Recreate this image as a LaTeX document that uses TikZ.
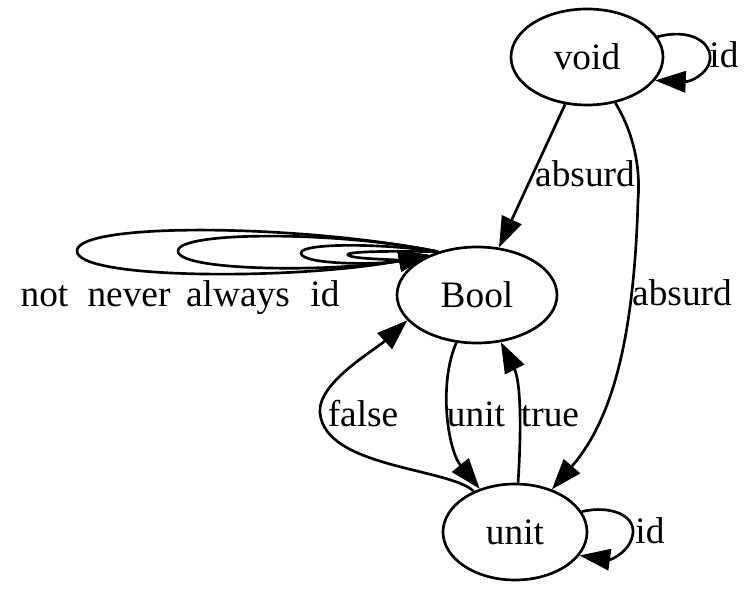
\documentclass[tikz,border=0pt]{standalone}
\usepackage{fontspec}
\setmainfont{Liberation Serif}
\usetikzlibrary{shapes.geometric,arrows.meta}

\begin{document}
\begin{tikzpicture}[x=0.375pt,y=-0.375pt,
  txt/.style={font=\fontsize{14}{16}\selectfont},
  state/.style={txt, draw, ellipse, line width=1pt, inner sep=0pt, minimum height=36pt},
  edge/.style={draw, line width=1pt, -{Triangle[length=11.5pt,width=8pt]}},
  lab/.style={txt, anchor=base, inner sep=0pt}]
\useasboundingbox (0,0) rectangle (750,592);

% objects
\node[state, minimum width=57pt] (void) at (587,57) {void};
\node[state, minimum width=60pt] (Bool) at (477,295) {Bool};
\node[state, minimum width=54pt] (unit) at (515,532) {unit};

% void
\draw[edge] (void.16) .. controls (690,28) and (712,42) .. (710,60)
  .. controls (708,74) and (690,82) .. (void.-19);
\node[lab] (lid1) at (724,68) {id};
\draw[edge] (void) -- (Bool);
\node[lab] (labs1) at (585,187) {absurd};
\draw[edge] (void) .. controls (632,130) and (641,165) .. (638,200)
  .. controls (634,340) and (612,420) .. (unit);
\node[lab] (labs2) at (682,305) {absurd};

% endomorphisms of Bool
\draw[edge] (Bool.132) .. controls (300,224) and (77,222) .. (77,251)
  .. controls (77,280) and (300,280) .. (Bool.140);
\draw[edge] (Bool.132) .. controls (340,231) and (178,231) .. (178,251)
  .. controls (178,272) and (340,272) .. (Bool.140);
\draw[edge] (Bool.132) .. controls (380,243) and (301,243) .. (301,253)
  .. controls (301,265) and (380,265) .. (Bool.140);
\draw[edge] (Bool.132) .. controls (405,251) and (348,251) .. (348,254.5)
  .. controls (348,259.5) and (405,259.5) .. (Bool.140);
\node[lab] (lnot) at (44.5,306) {not};
\node[lab] (lnever) at (129,306) {never};
\node[lab] (lalways) at (238,306) {always};
\node[lab] (lid2) at (325,306) {id};

% Bool and unit
\draw[edge] (Bool) .. controls (438,385) and (448,450) .. (unit);
\node[lab] (lunit) at (476,426) {unit};
\draw[edge] (unit) .. controls (522,420) and (520,380) .. (Bool);
\node[lab] (ltrue) at (550,426) {true};
\draw[edge] (unit) .. controls (450,468) and (325,468) .. (320,413)
  .. controls (317,383) and (375,350) .. (Bool.200);
\node[lab] (lfalse) at (363,426) {false};

% unit
\draw[edge] (unit.17) .. controls (610,505) and (634,515) .. (633,532)
  .. controls (632,550) and (612,560) .. (unit.-20);
\node[lab] (lid3) at (650,543) {id};
\end{tikzpicture}
\end{document}
